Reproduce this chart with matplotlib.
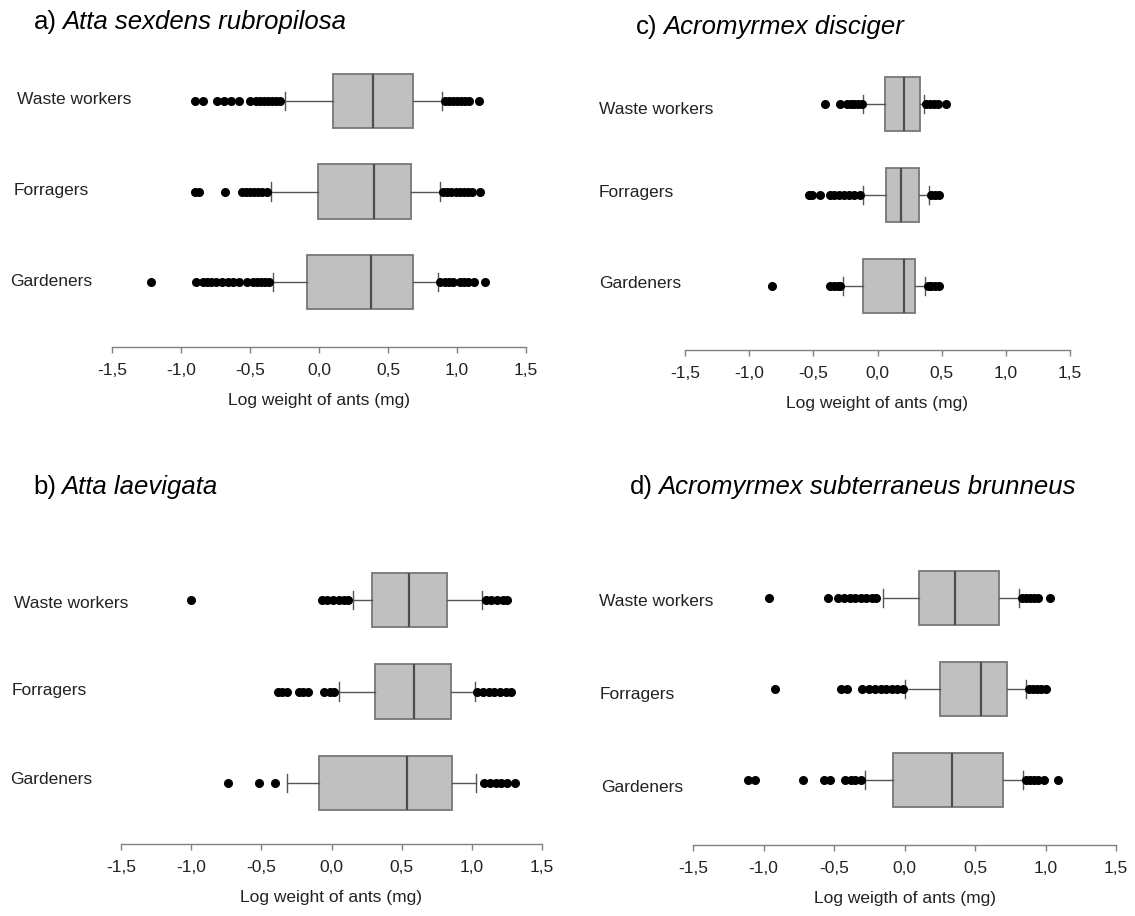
import matplotlib
matplotlib.use("Agg")
import matplotlib.pyplot as plt

plt.rcParams['font.family'] = ['Liberation Sans', 'DejaVu Sans']

# order of rows: top to bottom
castes = ["Waste workers", "Forragers", "Gardeners"]
tick_vals = [-1.5, -1.0, -0.5, 0.0, 0.5, 1.0, 1.5]
tick_labels = ["-1,5", "-1,0", "-0,5", "0,0", "0,5", "1,0", "1,5"]

# a) Atta sexdens rubropilosa
a_q1 = [0.10, -0.01, -0.09]
a_med = [0.39, 0.40, 0.38]
a_q3 = [0.68, 0.67, 0.68]
a_lo = [-0.25, -0.35, -0.33]
a_hi = [0.89, 0.88, 0.86]
a_out = [
    [-0.90, -0.84, -0.74, -0.69, -0.64, -0.58, -0.50, -0.46, -0.43, -0.40, -0.37, -0.34,
     -0.31, -0.28, 0.91, 0.94, 0.97, 1.00, 1.03, 1.06, 1.09, 1.16],
    [-0.90, -0.87, -0.68, -0.56, -0.53, -0.50, -0.47, -0.44, -0.41, -0.38, 0.90, 0.93,
     0.96, 0.99, 1.02, 1.05, 1.08, 1.11, 1.17],
    [-1.22, -0.89, -0.84, -0.81, -0.78, -0.75, -0.70, -0.66, -0.62, -0.58, -0.52, -0.48,
     -0.45, -0.42, -0.39, -0.36, 0.88, 0.91, 0.94, 0.97, 1.02, 1.05, 1.08, 1.12, 1.20],
]

# b) Atta laevigata
b_q1 = [0.29, 0.31, -0.09]
b_med = [0.55, 0.59, 0.54]
b_q3 = [0.82, 0.85, 0.86]
b_lo = [0.15, 0.05, -0.32]
b_hi = [1.07, 1.02, 1.03]
b_out = [
    [-1.00, -0.07, -0.03, 0.01, 0.05, 0.09, 0.12, 1.10, 1.14, 1.18, 1.22, 1.25],
    [-0.38, -0.35, -0.32, -0.23, -0.20, -0.17, -0.05, -0.01, 0.02, 1.04, 1.08, 1.12,
     1.16, 1.20, 1.24, 1.28],
    [-0.74, -0.52, -0.40, 1.09, 1.13, 1.17, 1.21, 1.25, 1.31],
]

# c) Acromyrmex disciger
c_q1 = [0.06, 0.07, -0.11]
c_med = [0.21, 0.18, 0.21]
c_q3 = [0.33, 0.32, 0.29]
c_lo = [-0.11, -0.11, -0.27]
c_hi = [0.36, 0.40, 0.37]
c_out = [
    [-0.41, -0.29, -0.24, -0.21, -0.18, -0.15, -0.12, 0.38, 0.41, 0.44, 0.47, 0.53],
    [-0.53, -0.51, -0.45, -0.37, -0.34, -0.30, -0.26, -0.22, -0.18, -0.14, 0.42, 0.45,
     0.48],
    [-0.82, -0.37, -0.34, -0.31, -0.29, 0.39, 0.42, 0.45, 0.48],
]

# d) Acromyrmex subterraneus brunneus
d_q1 = [0.10, 0.25, -0.08]
d_med = [0.36, 0.54, 0.34]
d_q3 = [0.67, 0.73, 0.70]
d_lo = [-0.15, 0.00, -0.28]
d_hi = [0.81, 0.86, 0.84]
d_out = [
    [-0.96, -0.54, -0.47, -0.43, -0.39, -0.35, -0.31, -0.27, -0.23, -0.20, 0.83, 0.86,
     0.89, 0.92, 0.95, 1.03],
    [-0.92, -0.45, -0.41, -0.30, -0.25, -0.21, -0.17, -0.13, -0.09, -0.05, -0.01, 0.88,
     0.91, 0.94, 0.97, 1.00],
    [-1.11, -1.06, -0.72, -0.57, -0.53, -0.42, -0.38, -0.35, -0.31, 0.86, 0.89, 0.92,
     0.95, 0.99, 1.09],
]

W, H = 1135, 916
fig = plt.figure(figsize=(W / 100, H / 100), dpi=100)


def panel(q1, med, q3, lo, hi, out, x0, x1, yw, yg, yaxis, label_pos, letter, species,
          title_xy, xlabel):
    # layout in pixels -> axes in figure fraction
    step = (yg - yw) / 2.0
    top = yw - 50
    ax = fig.add_axes([x0 / W, 1 - yaxis / H, (x1 - x0) / W, (yaxis - top) / H])
    stats = []
    for i in range(3):
        stats.append(dict(q1=q1[i], med=med[i], q3=q3[i], whislo=lo[i], whishi=hi[i],
                          fliers=out[i]))
    ax.bxp(stats, positions=[2, 1, 0], orientation="horizontal", widths=0.6,
           capwidths=0.2, patch_artist=True,
           boxprops=dict(facecolor="#c0c0c0", edgecolor="#777777", linewidth=1.3),
           medianprops=dict(color="#4d4d4d", linewidth=1.6),
           whiskerprops=dict(color="#555555", linewidth=1.0),
           capprops=dict(color="#555555", linewidth=1.0),
           flierprops=dict(marker="o", markerfacecolor="black", markeredgecolor="black",
                           markersize=5.5))
    ax.set_xlim(-1.5, 1.5)
    ax.set_ylim(-(yaxis - yg) / step, 2 + (yw - top) / step)
    for s in ["top", "right", "left"]:
        ax.spines[s].set_visible(False)
    ax.spines["bottom"].set_color("#808080")
    ax.spines["bottom"].set_linewidth(1.0)
    ax.set_yticks([])
    ax.set_xticks(tick_vals)
    ax.set_xticklabels(tick_labels, fontsize=12.5, color="#222222")
    ax.tick_params(axis="x", length=4, width=1, color="#808080", pad=7.5)
    ax.set_xlabel(xlabel, fontsize=12.5, color="#222222", labelpad=11)
    for name, (lx, ly) in zip(castes, label_pos):
        fig.text(lx / W, 1 - ly / H, name, fontsize=12.5, color="#222222", va="center")
    t = fig.text(title_xy[0] / W, 1 - title_xy[1] / H, letter, fontsize=18.5, va="center")
    ax.annotate(species, xy=(1, 0.5), xycoords=t, xytext=(4, 0),
                textcoords="offset points", va="center", ha="left", fontsize=18.5,
                style="italic")
    return ax


panel(a_q1, a_med, a_q3, a_lo, a_hi, a_out, 112, 526, 101, 282, 347,
      [(17, 100), (14, 190), (10, 281)], "a)", "Atta sexdens rubropilosa", (34, 22),
      "Log weight of ants (mg)")
panel(c_q1, c_med, c_q3, c_lo, c_hi, c_out, 685, 1070, 104, 286, 350,
      [(599, 109), (599, 192), (599, 283)], "c)", "Acromyrmex disciger", (636, 27),
      "Log weight of ants (mg)")
panel(b_q1, b_med, b_q3, b_lo, b_hi, b_out, 121, 542, 600, 783, 844,
      [(14, 603), (12, 691), (10, 779)], "b)", "Atta laevigata", (33, 487),
      "Log weight of ants (mg)")
panel(d_q1, d_med, d_q3, d_lo, d_hi, d_out, 693, 1116, 598, 780, 845,
      [(599, 602), (600, 695), (601, 787)], "d)", "Acromyrmex subterraneus brunneus",
      (630, 487), "Log weigth of ants (mg)")

fig.savefig("out.png", dpi=100)
